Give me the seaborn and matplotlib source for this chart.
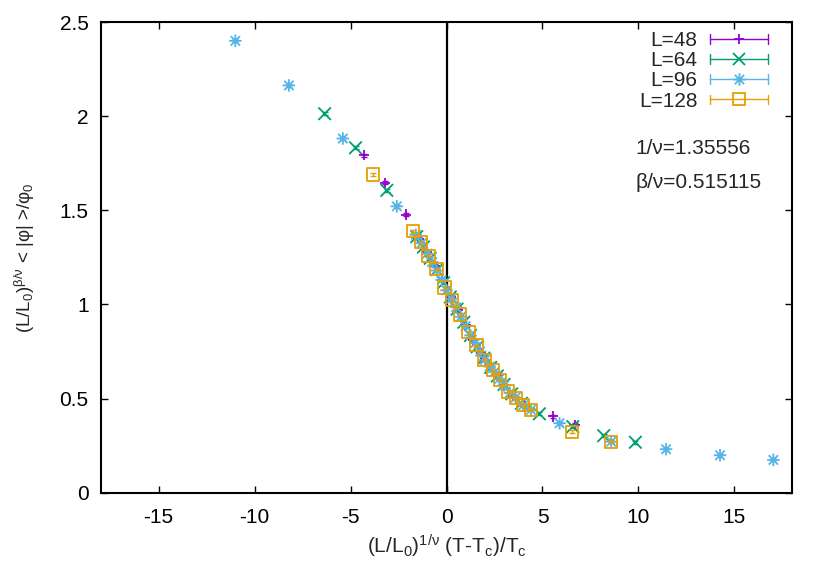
import numpy as np
import matplotlib
matplotlib.use("Agg")
import matplotlib.pyplot as plt
import seaborn as sns
from matplotlib.path import Path
from matplotlib.lines import Line2D
from matplotlib.legend_handler import HandlerBase
from matplotlib.ticker import FuncFormatter, MultipleLocator

# ---------------- data ----------------
labels = ["L=48", "L=64", "L=96", "L=128"]

x48 = [-4.31, -3.19, -2.10, -1.45, -1.05, -0.62, -0.22, 0.20, 0.60, 1.00, 1.40,
       1.80, 2.20, 2.60, 3.00, 3.45, 4.10, 5.55, 6.67]
y48 = [1.793, 1.646, 1.477, 1.350, 1.280, 1.205, 1.130, 1.040, 0.970, 0.890, 0.810,
       0.740, 0.680, 0.625, 0.570, 0.515, 0.460, 0.405, 0.360]

x64 = [-6.35, -4.74, -3.11, -1.55, -1.20, -0.85, -0.50, -0.15, 0.20, 0.55, 0.90,
       1.25, 1.60, 1.95, 2.30, 2.65, 3.00, 3.40, 3.90, 4.84, 6.58, 8.19, 9.84]
y64 = [2.013, 1.832, 1.606, 1.360, 1.305, 1.245, 1.185, 1.115, 1.040, 0.975, 0.905,
       0.835, 0.775, 0.715, 0.665, 0.620, 0.575, 0.525, 0.475, 0.419, 0.351, 0.303, 0.268]

x96 = [-11.00, -8.21, -5.40, -2.59, -1.60, -1.30, -1.00, -0.75, -0.50, -0.25, 0.00,
       0.25, 0.50, 0.75, 1.00, 1.25, 1.50, 1.75, 2.00, 2.25, 2.50, 2.75, 3.00, 3.30,
       3.60, 4.00, 4.40, 5.89, 8.58, 11.44, 14.25, 17.03]
y96 = [2.400, 2.163, 1.881, 1.521, 1.370, 1.325, 1.270, 1.225, 1.180, 1.130, 1.075,
       1.030, 0.985, 0.935, 0.885, 0.835, 0.795, 0.750, 0.705, 0.670, 0.640, 0.605,
       0.570, 0.530, 0.505, 0.465, 0.440, 0.369, 0.271, 0.231, 0.199, 0.174]

x128 = [-3.84, -1.75, -1.32, -0.94, -0.52, -0.10, 0.30, 0.71, 1.15, 1.56, 1.98,
        2.41, 2.80, 3.19, 3.63, 3.97, 4.41, 6.53, 8.58]
y128 = [1.690, 1.388, 1.330, 1.259, 1.188, 1.090, 1.022, 0.946, 0.853, 0.784, 0.706,
        0.650, 0.600, 0.537, 0.502, 0.466, 0.440, 0.324, 0.271]

err48, err64, err96, err128 = 0.008, 0.008, 0.008, 0.008

inv_nu_text = "1/ν=1.35556"
beta_nu_text = "β/ν=0.515115"

# ---------------- style ----------------
sns.set_style("ticks")
plt.rcParams['font.family'] = ['Liberation Sans', 'DejaVu Sans']
plt.rcParams['mathtext.fontset'] = 'custom'
plt.rcParams['mathtext.rm'] = 'Liberation Sans'
plt.rcParams['mathtext.it'] = 'Liberation Sans'
plt.rcParams['mathtext.default'] = 'regular'

FS = 15
colors = ["#9400D3", "#009E73", "#56B4E9", "#E69F00"]

star = Path([(-1, 0), (1, 0), (0, -1), (0, 1),
             (-0.75, -0.75), (0.75, 0.75), (-0.75, 0.75), (0.75, -0.75)],
            [Path.MOVETO, Path.LINETO] * 4)
markers = ["+", "x", star, "s"]
msizes = [7.5, 9.0, 9.0, 8.8]

fig = plt.figure(figsize=(8.3, 5.81), dpi=100)
ax = fig.add_axes([101 / 830, 1 - 492.7 / 581, 691 / 830, 470.7 / 581])

ax.axvline(0, color="black", lw=1.6, zorder=1.5)

series = [(x48, y48, err48), (x64, y64, err64), (x96, y96, err96), (x128, y128, err128)]
for i, (xs, ys, e) in enumerate(series):
    c = colors[i]
    ax.errorbar(xs, ys, yerr=e, fmt="none", ecolor=c, elinewidth=1.0,
                capsize=2.5, capthick=1.0, zorder=2 + i)
    sns.scatterplot(x=xs, y=ys, marker=markers[i], s=msizes[i] ** 2, color=c,
                    edgecolor=c, linewidth=1.3, ax=ax, zorder=2.5 + i, legend=False)
    ax.collections[-1].set_facecolor("none")
    ax.collections[-1].set_edgecolor(c)

ax.set_xlim(-18, 18)
ax.set_ylim(0, 2.5)
ax.xaxis.set_major_locator(MultipleLocator(5))
ax.yaxis.set_major_locator(MultipleLocator(0.5))
fmt = FuncFormatter(lambda v, p: "%g" % v)
ax.xaxis.set_major_formatter(fmt)
ax.yaxis.set_major_formatter(fmt)
ax.tick_params(direction="in", length=5, width=1, top=True, right=True,
               labelsize=FS, colors="black")
ax.tick_params(axis="x", pad=11)
ax.tick_params(axis="y", pad=9)
for s in ax.spines.values():
    s.set_linewidth(1.5)
    s.set_color("black")
    s.set_visible(True)

ax.set_xlabel("(L/L$_0$)$^{1/ν}$ (T-T$_c$)/T$_c$", fontsize=FS, labelpad=4)
ax.set_ylabel("(L/L$_0$)$^{β/ν}$ < |φ| >/φ$_0$", fontsize=13.5, labelpad=16)

ax.text(0.773, 0.732, inv_nu_text, transform=ax.transAxes, fontsize=FS,
        ha="left", va="center")
ax.text(0.773, 0.660, beta_nu_text, transform=ax.transAxes, fontsize=FS,
        ha="left", va="center")


class ErrProxy:
    def __init__(self, color, marker, ms):
        self.color = color
        self.marker = marker
        self.ms = ms


class ErrHandler(HandlerBase):
    def create_artists(self, legend, h, xdescent, ydescent, width, height,
                       fontsize, trans):
        y = height / 2 - ydescent
        x0 = -xdescent
        x1 = -xdescent + width
        cap = 3.5
        arts = [
            Line2D([x0, x1], [y, y], color=h.color, lw=1.0),
            Line2D([x0, x0], [y - cap, y + cap], color=h.color, lw=1.0),
            Line2D([x1, x1], [y - cap, y + cap], color=h.color, lw=1.0),
            Line2D([(x0 + x1) / 2], [y], marker=h.marker, ms=h.ms, mew=1.3,
                   mfc="none", mec=h.color, ls=""),
        ]
        for a in arts:
            a.set_transform(trans)
        return arts


proxies = [ErrProxy(colors[i], markers[i], msizes[i]) for i in range(4)]
ax.legend(proxies, labels, handler_map={ErrProxy: ErrHandler()},
          loc="upper right", bbox_to_anchor=(0.9653, 0.981), borderaxespad=0,
          borderpad=0, frameon=False, markerfirst=False, fontsize=FS,
          handlelength=2.8, handletextpad=0.58, labelspacing=0.06)

fig.savefig("out.png", dpi=100)
